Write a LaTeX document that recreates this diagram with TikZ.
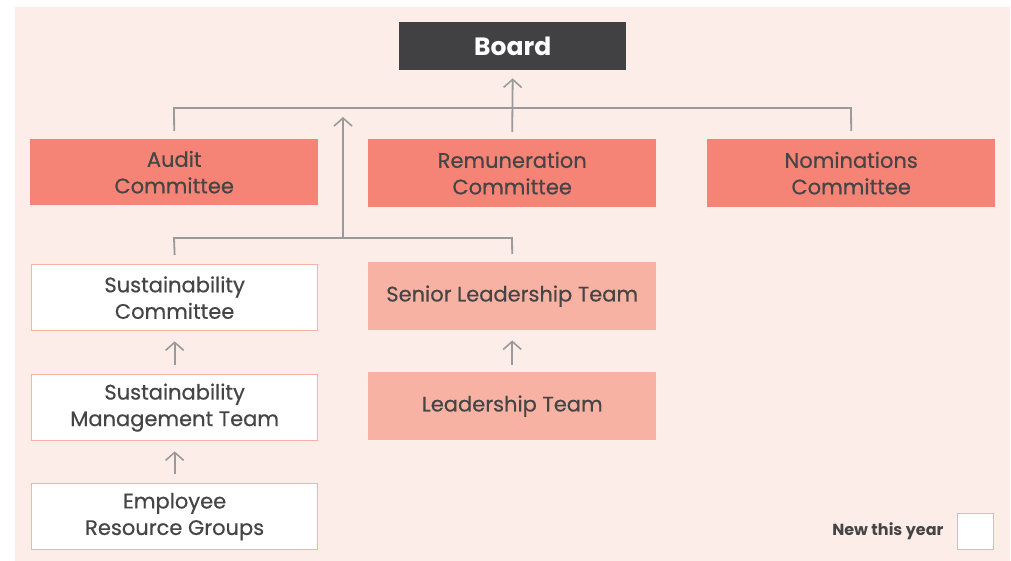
\documentclass[tikz,border=0pt]{standalone}
\usepackage{fontspec}
\setmainfont{Poppins}
\newfontfamily\medfont[UprightFeatures={FakeBold=0.5}]{Poppins}
\usetikzlibrary{arrows.meta}
\definecolor{bgpink}{HTML}{FDEDE8}
\definecolor{boardgray}{HTML}{414144}
\definecolor{salmon}{HTML}{F58476}
\definecolor{lightsalmon}{HTML}{F8B2A3}
\definecolor{txtgray}{HTML}{454545}
\definecolor{linegray}{HTML}{9A9A9A}
\tikzset{
  box/.style={minimum width=288pt, minimum height=67pt, inner sep=0pt, align=center,
    text=txtgray, font=\medfont\fontsize{21}{26.5}\selectfont, anchor=north west},
  committee/.style={box, fill=salmon},
  team/.style={box, fill=lightsalmon},
  newbox/.style={box, fill=white, draw=lightsalmon, line width=1.3pt},
  conn/.style={draw=linegray, line width=1.8pt},
  arr/.style={conn, -{Straight Barb[length=8pt,width=18pt,line width=1.6pt]}},
}
\begin{document}
\begin{tikzpicture}[x=1pt,y=-1pt]
\useasboundingbox (0,0) rectangle (1011,561);
\fill[bgpink] (15,7) rectangle (1010,561);
\node[fill=boardgray, minimum width=227pt, minimum height=48pt, inner sep=0pt, anchor=north west,
  text=white, font=\fontsize{25}{28}\selectfont\bfseries] (board) at (399,22) {Board};
\node[committee, minimum height=66pt] (audit) at (30,139) {Audit\\Committee};
\node[committee, minimum height=68pt] (remun) at (368,139) {Remuneration\\Committee};
\node[committee, minimum height=68pt] (nomin) at (707,139) {Nominations\\Committee};
\node[newbox, minimum width=286pt, minimum height=66pt] (susc) at (31,264) {Sustainability\\Committee};
\node[team, minimum height=68pt] (slt) at (368,262) {Senior Leadership Team};
\node[newbox, minimum width=286pt, minimum height=66pt] (susm) at (31,374) {Sustainability\\Management Team};
\node[team, minimum height=68pt] (lt) at (368,372) {Leadership Team};
\node[newbox, minimum width=286pt, minimum height=66pt] (erg) at (31,483) {Employee\\Resource Groups};
\node[fill=white, draw=lightsalmon, line width=1.3pt, minimum width=36pt, minimum height=36pt,
  inner sep=0pt, anchor=north west] (legbox) at (957,513) {};
\node[anchor=east, text=txtgray, font=\fontsize{16}{18}\selectfont\bfseries] (legtxt)
  at ([xshift=-10pt]legbox.west) {New this year};
% top tree
\coordinate (hl) at (174,108);
\coordinate (hr) at (851,108);
\coordinate (hm) at (512,108);
\draw[conn] ([yshift=8pt]audit.north) -- (hl) -- (hr) -- ([yshift=8pt]nomin.north);
\draw[arr] ([yshift=7pt]remun.north) -- ([yshift=-8pt]board.south);
% second tree
\coordinate (gl) at (174,238);
\coordinate (gm) at (343,238);
\coordinate (gr) at (512,238);
\coordinate (gtop) at (343,117);
\draw[conn] ([yshift=9pt]susc.north) -- (gl) -- (gr) -- ([yshift=8pt]slt.north);
\draw[arr] (gm) -- (gtop);
% small arrows
\draw[arr] ([yshift=9pt]susm.north) -- ([yshift=-10pt]susc.south);
\draw[arr] ([yshift=9pt]erg.north) -- ([yshift=-10pt]susm.south);
\draw[arr] ([yshift=7pt]lt.north) -- ([yshift=-10pt]slt.south);
\end{tikzpicture}
\end{document}
